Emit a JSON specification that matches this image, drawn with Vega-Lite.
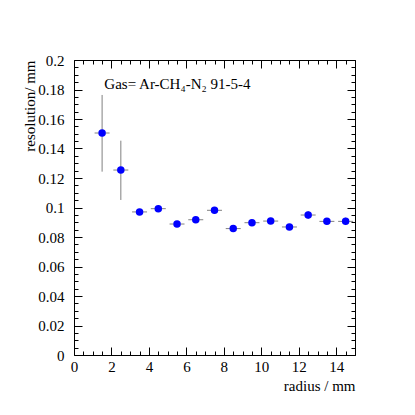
{
  "$schema": "https://vega.github.io/schema/vega-lite/v6.json",
  "width": 281,
  "height": 295,
  "autosize": {"type": "none"},
  "padding": {"left": 74, "top": 60, "right": 60, "bottom": 60},
  "background": "white",
  "config": {
    "view": {"stroke": "black", "strokeWidth": 1},
    "font": "Liberation Serif",
    "axis": {
      "grid": false,
      "domain": false,
      "labelFont": "Liberation Serif",
      "labelFontSize": 15,
      "labelColor": "black",
      "titleFont": "Liberation Serif",
      "titleFontSize": 15,
      "titleFontWeight": "normal",
      "titleColor": "black",
      "tickColor": "black",
      "tickWidth": 1,
      "labelFlush": false,
      "labelOverlap": false
    }
  },
  "data": {
    "values": [
      {"r": 1.5, "res": 0.1505, "ylo": 0.1243, "yhi": 0.1763, "xlo": 1.1, "xhi": 1.9},
      {"r": 2.5, "res": 0.1254, "ylo": 0.1051, "yhi": 0.1453, "xlo": 2.1, "xhi": 2.9},
      {"r": 3.5, "res": 0.0970, "ylo": 0.0950, "yhi": 0.0990, "xlo": 3.1, "xhi": 3.9},
      {"r": 4.5, "res": 0.0992, "ylo": 0.0972, "yhi": 0.1012, "xlo": 4.1, "xhi": 4.9},
      {"r": 5.5, "res": 0.0888, "ylo": 0.0868, "yhi": 0.0908, "xlo": 5.1, "xhi": 5.9},
      {"r": 6.5, "res": 0.0917, "ylo": 0.0897, "yhi": 0.0937, "xlo": 6.1, "xhi": 6.9},
      {"r": 7.5, "res": 0.0981, "ylo": 0.0961, "yhi": 0.1001, "xlo": 7.1, "xhi": 7.9},
      {"r": 8.5, "res": 0.0857, "ylo": 0.0837, "yhi": 0.0877, "xlo": 8.1, "xhi": 8.9},
      {"r": 9.5, "res": 0.0897, "ylo": 0.0877, "yhi": 0.0917, "xlo": 9.1, "xhi": 9.9},
      {"r": 10.5, "res": 0.0908, "ylo": 0.0888, "yhi": 0.0928, "xlo": 10.1, "xhi": 10.9},
      {"r": 11.5, "res": 0.0868, "ylo": 0.0848, "yhi": 0.0888, "xlo": 11.1, "xhi": 11.9},
      {"r": 12.5, "res": 0.0949, "ylo": 0.0922, "yhi": 0.0976, "xlo": 12.1, "xhi": 12.9},
      {"r": 13.5, "res": 0.0906, "ylo": 0.0884, "yhi": 0.0928, "xlo": 13.1, "xhi": 13.9},
      {"r": 14.5, "res": 0.0906, "ylo": 0.0881, "yhi": 0.0931, "xlo": 14.1, "xhi": 14.9}
    ]
  },
  "layer": [
    {
      "mark": {"type": "rule", "color": "#808080", "strokeWidth": 1},
      "encoding": {
        "x": {
          "field": "xlo", "type": "quantitative",
          "scale": {"domain": [0, 15], "nice": false, "zero": false},
          "axis": {
            "orient": "bottom",
            "values": [0,0.5,1,1.5,2,2.5,3,3.5,4,4.5,5,5.5,6,6.5,7,7.5,8,8.5,9,9.5,10,10.5,11,11.5,12,12.5,13,13.5,14,14.5,15],
            "tickSize": {"condition": {"test": "datum.value % 2 === 0", "value": -8}, "value": -4},
            "labelExpr": "datum.value % 2 === 0 && datum.value < 15 ? '' + datum.value : ''",
            "labelFont": "Liberation Serif",
            "labelFontSize": 15,
            "labelPadding": 12,
            "title": "radius / mm",
            "titleFont": "Liberation Serif",
            "titleFontSize": 15,
            "titleFontWeight": "normal",
            "titleAnchor": "end",
            "titlePadding": 0
          }
        },
        "x2": {"field": "xhi"},
        "y": {
          "field": "res", "type": "quantitative",
          "scale": {"domain": [0, 0.2], "nice": false, "zero": false},
          "axis": {
            "orient": "left",
            "values": [0,0.005,0.01,0.015,0.02,0.025,0.03,0.035,0.04,0.045,0.05,0.055,0.06,0.065,0.07,0.075,0.08,0.085,0.09,0.095,0.1,0.105,0.11,0.115,0.12,0.125,0.13,0.135,0.14,0.145,0.15,0.155,0.16,0.165,0.17,0.175,0.18,0.185,0.19,0.195,0.2],
            "tickSize": {"condition": {"test": "abs(datum.value * 50 - round(datum.value * 50)) < 1e-6", "value": -8}, "value": -4},
            "labelExpr": "abs(datum.value * 50 - round(datum.value * 50)) < 1e-6 ? '' + datum.value : ''",
            "labelFont": "Liberation Serif",
            "labelFontSize": 15,
            "labelPadding": 18,
            "title": "resolution/ mm",
            "titleFont": "Liberation Serif",
            "titleFontSize": 15,
            "titleFontWeight": "normal",
            "titleAnchor": "end",
            "titlePadding": 0
          }
        }
      }
    },
    {
      "mark": {"type": "rule", "color": "#808080", "strokeWidth": 1},
      "encoding": {
        "x": {
          "field": "r", "type": "quantitative",
          "axis": {
            "orient": "top",
            "values": [0,0.5,1,1.5,2,2.5,3,3.5,4,4.5,5,5.5,6,6.5,7,7.5,8,8.5,9,9.5,10,10.5,11,11.5,12,12.5,13,13.5,14,14.5,15],
            "tickSize": {"condition": {"test": "datum.value % 2 === 0", "value": -8}, "value": -4},
            "labels": false,
            "title": null
          }
        },
        "y": {
          "field": "ylo", "type": "quantitative",
          "axis": {
            "orient": "right",
            "values": [0,0.005,0.01,0.015,0.02,0.025,0.03,0.035,0.04,0.045,0.05,0.055,0.06,0.065,0.07,0.075,0.08,0.085,0.09,0.095,0.1,0.105,0.11,0.115,0.12,0.125,0.13,0.135,0.14,0.145,0.15,0.155,0.16,0.165,0.17,0.175,0.18,0.185,0.19,0.195,0.2],
            "tickSize": {"condition": {"test": "abs(datum.value * 50 - round(datum.value * 50)) < 1e-6", "value": -8}, "value": -4},
            "labels": false,
            "title": null
          }
        },
        "y2": {"field": "yhi"}
      }
    },
    {
      "mark": {"type": "circle", "color": "#0000ff", "opacity": 1, "size": 56},
      "encoding": {
        "x": {"field": "r", "type": "quantitative", "axis": null},
        "y": {"field": "res", "type": "quantitative", "axis": null}
      }
    },
    {
      "data": {"values": [{"r": 1.62, "res": 0.1803, "label": "Gas= Ar-CH₄-N₂ 91-5-4"}]},
      "mark": {"type": "text", "align": "left", "baseline": "alphabetic", "font": "Liberation Serif", "fontSize": 15, "color": "black"},
      "encoding": {
        "x": {"field": "r", "type": "quantitative", "axis": null},
        "y": {"field": "res", "type": "quantitative", "axis": null},
        "text": {"field": "label"}
      }
    }
  ],
  "resolve": {"axis": {"x": "independent", "y": "independent"}}
}
